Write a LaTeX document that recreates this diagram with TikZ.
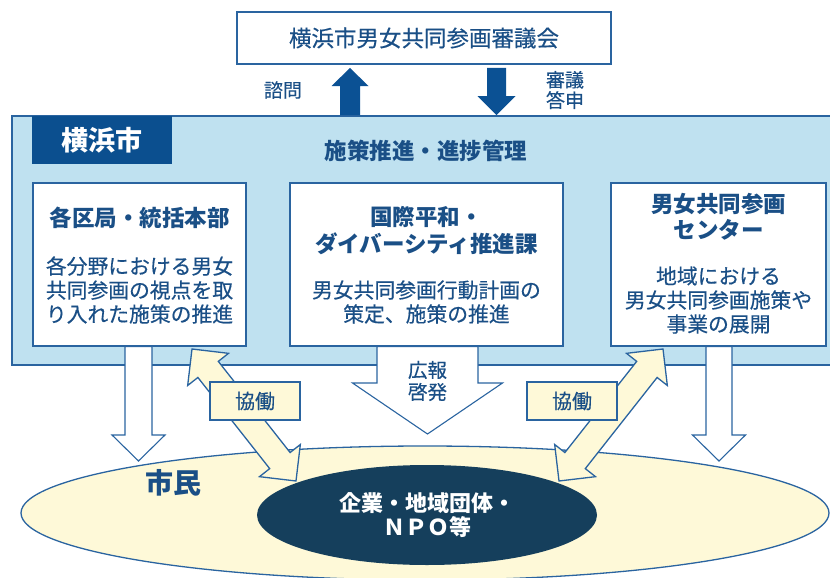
\documentclass[tikz,border=0pt]{standalone}
\usepackage{fontspec}
\setmainfont{Noto Sans CJK JP}
\newfontfamily\medfont{Noto Sans CJK JP}[FakeBold=0.4]
\usetikzlibrary{calc,shapes.geometric}
\definecolor{txtblue}{HTML}{1A4F86}
\definecolor{lineblue}{HTML}{2A64A0}
\definecolor{panelblue}{HTML}{BFE1F0}
\definecolor{cityblue}{HTML}{0B4F8F}
\definecolor{arrowblue}{HTML}{0B5194}
\definecolor{citizen}{HTML}{FEF9D8}
\definecolor{navy}{HTML}{153F5C}
\pgfdeclarelayer{under}
\pgfsetlayers{under,main}

\newcommand{\fatarrow}[6]{%
  \coordinate (fah) at ($(#3)!#6!(#2)$);
  \path[#1] ($(#2)!#4!90:(#3)$) -- ($(fah)!#4!90:(#3)$) -- ($(fah)!#5!90:(#3)$) -- (#3)
    -- ($(fah)!#5!-90:(#3)$) -- ($(fah)!#4!-90:(#3)$) -- ($(#2)!#4!-90:(#3)$) -- cycle;}
\newcommand{\twinarrow}[6]{%
  \coordinate (tha) at ($(#2)!#6!(#3)$);
  \coordinate (thb) at ($(#3)!#6!(#2)$);
  \path[#1] (#2) -- ($(tha)!#5!90:(#3)$) -- ($(tha)!#4!90:(#3)$) -- ($(thb)!#4!90:(#3)$)
    -- ($(thb)!#5!90:(#3)$) -- (#3) -- ($(thb)!#5!-90:(#3)$) -- ($(thb)!#4!-90:(#3)$)
    -- ($(tha)!#4!-90:(#3)$) -- ($(tha)!#5!-90:(#3)$) -- cycle;}

\begin{document}
\begin{tikzpicture}
        [x=1pt,y=-1pt,
        box/.style={draw=lineblue,line width=1.3pt,fill=white,inner sep=0pt},
        title/.style={text=txtblue,align=center,font=\fontsize{22.5}{26.5}\selectfont\bfseries},
        body/.style={text=txtblue,align=center,font=\medfont\fontsize{20.8}{24}\selectfont},
        note/.style={text=txtblue,align=center,font=\medfont\fontsize{19}{20.5}\selectfont},
        solid arrow/.style={fill=arrowblue},
        hollow arrow/.style={fill=white,draw=lineblue,line width=1.1pt,line join=miter},
        work arrow/.style={fill=citizen,draw=lineblue,line width=1.3pt,line join=miter},
        workbox/.style={draw=lineblue,line width=1.5pt,fill=citizen,minimum width=90pt,minimum height=38pt,
          text=txtblue,font=\medfont\fontsize{20}{22}\selectfont}]
        \useasboundingbox (0,0) rectangle (830,578);
        \clip (0,0) rectangle (830,578);
        
        \node[fill=panelblue,draw=lineblue,line width=1.6pt,minimum width=823pt,minimum height=249pt] (panel) at (423.5,240.5) {};
        \node[fill=cityblue,minimum width=140pt,minimum height=48pt,text=white,font=\fontsize{27}{30}\selectfont\bfseries] (city) at (102,140) {横浜市};
        \node[title] (manage) at (426,151) {施策推進・進捗管理};
        
        \node[box,minimum width=374pt,minimum height=52pt] (council) at (424,38) {};
        \node[text=txtblue,font=\medfont\fontsize{22.5}{26}\selectfont] (councilT) at (424,38) {横浜市男女共同参画審議会};
        
        \coordinate (ask0) at (panel.north -| 350,0);
        \coordinate (ask1) at (350,68);
        \coordinate (ans0) at (496.5,68);
        \coordinate (ans1) at (panel.north -| 496.5,0);
        \fatarrow{solid arrow}{ask0}{ask1}{10pt}{18.5pt}{18pt}
        \fatarrow{solid arrow}{ans0}{ans1}{9.5pt}{19pt}{19pt}
        \node[note] (ask) at (283,90) {諮問};
        \node[note] (ans) at (565,90) {審議\\答申};
        
        \node[box,minimum width=213pt,minimum height=163pt] (lbox) at (139.5,264.5) {};
        \node[box,minimum width=273pt,minimum height=163pt] (mbox) at (426.5,264.5) {};
        \node[box,minimum width=215pt,minimum height=163pt] (rbox) at (718.5,264.5) {};
        
        \node[title] (lboxT) at (139.5,218) {各区局・統括本部};
        \node[body] (lboxB) at (139.5,290) {各分野における男女\\共同参画の視点を取\\り入れた施策の推進};
        \node[title] (mboxT) at (426.5,230.5) {国際平和・\\ダイバーシティ推進課};
        \node[body] (mboxB) at (426.5,302) {男女共同参画行動計画の\\策定、施策の推進};
        \node[title] (rboxT) at (718.5,217) {男女共同参画\\センター};
        \node[body] (rboxB) at (718.5,300) {地域における\\男女共同参画施策や\\事業の展開};
        
        \coordinate (toL0) at (rbox.west |- 0,240);
        \coordinate (toL1) at ($(lbox.east |- 0,240)+(3,0)$);
        \coordinate (toR0) at (lbox.east |- 0,295);
        \coordinate (toR1) at ($(rbox.west |- 0,295)+(-2,0)$);
        \begin{pgfonlayer}{under}
        \fatarrow{hollow arrow}{toL0}{toL1}{13pt}{27pt}{26pt}
        \fatarrow{hollow arrow}{toR0}{toR1}{13pt}{27pt}{27pt}
        \end{pgfonlayer}
        
        \coordinate (dnL0) at (lbox.south -| 138.5,0);
        \coordinate (dnL1) at (138.5,461);
        \coordinate (dnR0) at (rbox.south -| 719,0);
        \coordinate (dnR1) at (719,461);
        \coordinate (pr0) at (mbox.south -| 427.5,0);
        \coordinate (pr1) at (427.5,434);
        \fatarrow{hollow arrow}{dnL0}{dnL1}{13.5pt}{26.5pt}{26pt}
        \fatarrow{hollow arrow}{dnR0}{dnR1}{13pt}{26.5pt}{26pt}
        \fatarrow{hollow arrow}{pr0}{pr1}{50.5pt}{75pt}{51pt}
        \node[note,font=\medfont\fontsize{19.5}{22}\selectfont] (pr) at (427.5,381) {広報\\啓発};
        
        \node[ellipse,fill=citizen,draw=lineblue,line width=1.3pt,minimum width=808pt,minimum height=134pt] (shimin) at (425,513) {};
        \node[text=txtblue,font=\fontsize{28}{30}\selectfont\bfseries] (shiminT) at (173,483) {市民};
        \node[ellipse,fill=navy,minimum width=340pt,minimum height=100pt,text=white,align=center,
          font=\fontsize{22}{24}\selectfont\bfseries] (kigyo) at (427,515) {企業・地域団体・\\ＮＰＯ等};
        
        \coordinate (coL0) at (192,349);
        \coordinate (coL1) at (296,481);
        \coordinate (coR0) at (663,349);
        \coordinate (coR1) at (559,481);
        \twinarrow{work arrow}{coL0}{coL1}{13pt}{26pt}{26pt}
        \twinarrow{work arrow}{coR0}{coR1}{13pt}{26pt}{26pt}
        \node[workbox] (coL) at (255,401) {協働};
        \node[workbox] (coR) at (572,401) {協働};
    
    \end{tikzpicture}
\end{document}
